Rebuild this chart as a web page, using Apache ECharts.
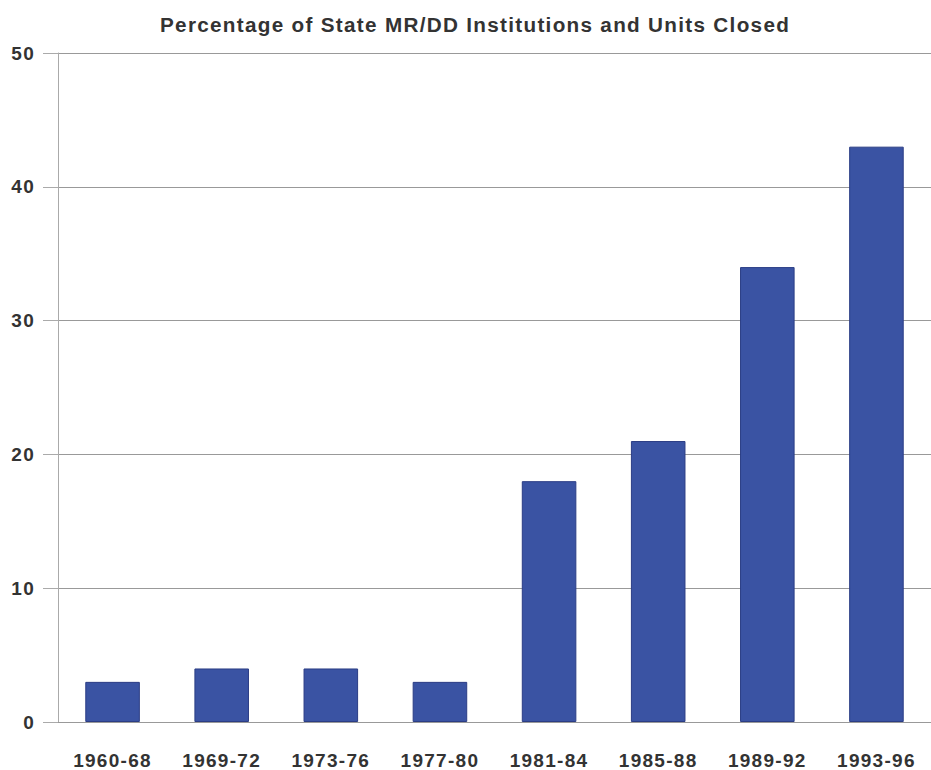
<!DOCTYPE html>
<html><head><meta charset="utf-8">
<script src="https://cdn.jsdelivr.net/npm/echarts@6/dist/echarts.min.js"></script>
<style>html,body{margin:0;padding:0;background:#fff}#c{width:931px;height:770px}
#c svg text{letter-spacing:1.3px}</style>
</head><body><div id="c"></div>
<script>
const categories = ['1960-68','1969-72','1973-76','1977-80','1981-84','1985-88','1989-92','1993-96'];
const values = [3, 4, 4, 3, 18, 21, 34, 43];
const yTicks = [0, 10, 20, 30, 40, 50];
const titleText = 'Percentage of State MR/DD Institutions and Units Closed';

const font = 'Liberation Sans, Arial, sans-serif';
const chart = echarts.init(document.getElementById('c'), null, {renderer: 'svg'});
chart.setOption({
  animation: false,
  backgroundColor: '#fff',
  title: {
    text: titleText,
    left: 155, top: 9,
    textStyle: {fontFamily: font, fontSize: 20.7, fontWeight: 'bold', color: '#333'}
  },
  grid: {left: 58, top: 53, width: 883, height: 669, containLabel: false},
  xAxis: {
    type: 'category', data: categories,
    axisLine: {lineStyle: {color: '#999', width: 1}},
    axisTick: {alignWithLabel: true, length: 12, lineStyle: {color: '#999'}},
    axisLabel: {fontFamily: font, fontSize: 19, fontWeight: 'bold', color: '#333', margin: 29}
  },
  yAxis: {
    type: 'value', min: 0, max: 50, interval: 10,
    axisLine: {show: true, lineStyle: {color: '#aaa', width: 1}},
    axisTick: {show: true, length: 15, lineStyle: {color: '#aaa'}},
    splitLine: {lineStyle: {color: '#999', width: 1}},
    axisLabel: {fontFamily: font, fontSize: 19, fontWeight: 'bold', color: '#333', margin: 23,
      padding: [6, 0, 0, 0],
      formatter: v => yTicks.includes(v) ? String(v) : ''}
  },
  series: [{
    type: 'bar', data: values, barWidth: '50%',
    itemStyle: {color: '#3a53a3', borderColor: '#2b3d85', borderWidth: 1}
  }]
});
</script></body></html>
